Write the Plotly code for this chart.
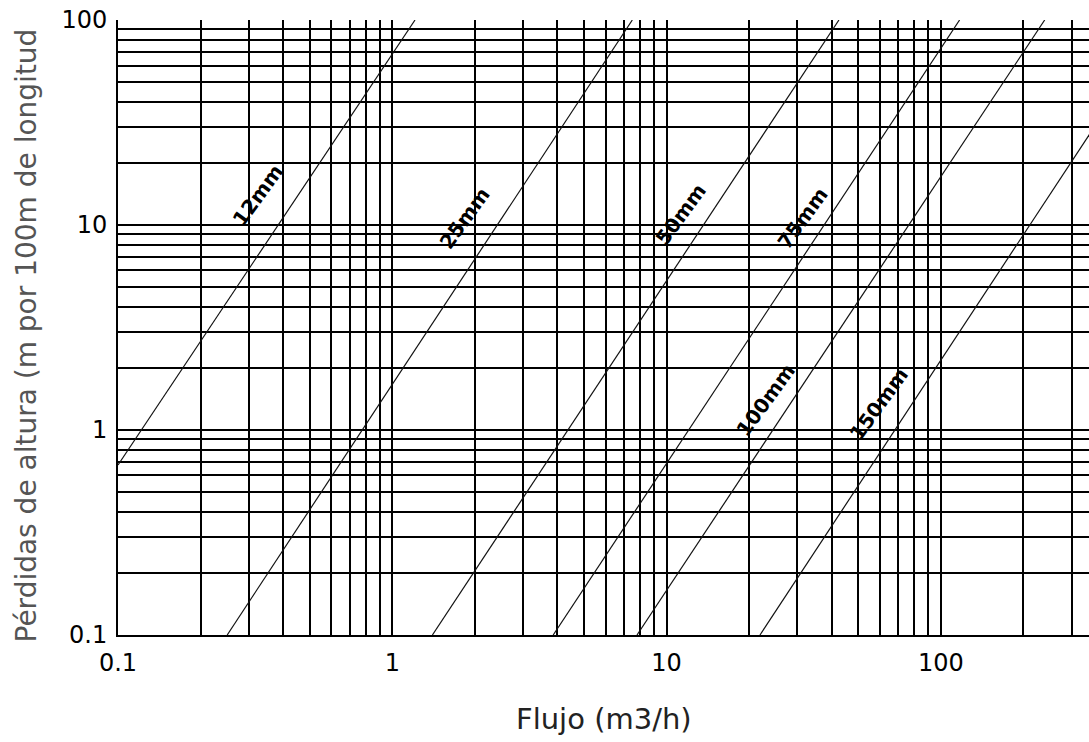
import numpy as np
import plotly.graph_objects as go

# ---- data ----
x_ticks = [0.1, 0.2, 0.3, 0.4, 0.5, 0.6, 0.7, 0.8, 0.9,
           1, 2, 3, 4, 5, 6, 7, 8, 9,
           10, 20, 30, 40, 50, 60, 70, 80, 90,
           100, 200, 300, 400, 500, 600, 700, 800, 900]
x_tick_labels = ["0.1", "", "", "", "", "", "", "", "",
                 "1", "", "", "", "", "", "", "", "",
                 "10", "", "", "", "", "", "", "", "",
                 "100", "", "", "", "", "", "", "", ""]
y_ticks = [0.1, 0.2, 0.3, 0.4, 0.5, 0.6, 0.7, 0.8, 0.9,
           1, 2, 3, 4, 5, 6, 7, 8, 9,
           10, 20, 30, 40, 50, 60, 70, 80, 90, 100]
y_tick_labels = ["0.1", "", "", "", "", "", "", "", "",
                 "1", "", "", "", "", "", "", "", "",
                 "10", "", "", "", "", "", "", "", "", "100"]

pipe_sizes = ["12mm", "25mm", "50mm", "75mm", "100mm", "150mm"]
flow_start = [0.1, 0.25, 1.40, 3.86, 7.8, 21.9]
loss_start = [0.675, 0.1, 0.1, 0.1, 0.1, 0.1]
flow_end = [1.21, 7.5, 42.5, 117, 239, 350]
loss_end = [100, 100, 100, 100, 100, 28]
label_flow = [0.324, 1.84, 11.3, 31.4, 23.0, 59.4]
label_loss = [14.0, 10.8, 11.3, 10.8, 1.40, 1.34]

x_title = "Flujo (m3/h)"
y_title = "Pérdidas de altura (m por 100m de longitud"

FONT = "DejaVu Sans"

fig = go.Figure()
for name, x0, y0, x1, y1 in zip(pipe_sizes, flow_start, loss_start, flow_end, loss_end):
    fig.add_trace(go.Scatter(x=[x0, x1], y=[y0, y1], mode="lines", name=name,
                             line=dict(color="#111111", width=1.2), showlegend=False,
                             hoverinfo="skip"))

for name, lx, ly in zip(pipe_sizes, label_flow, label_loss):
    fig.add_annotation(x=np.log10(lx), y=np.log10(ly), xref="x", yref="y",
                       text=name, showarrow=False, textangle=-54,
                       font=dict(family=FONT, size=20, color="#000000", weight="bold"))

fig.add_annotation(x=0.5, y=0, xref="paper", yref="paper", text=x_title,
                   showarrow=False, yanchor="middle", yshift=-84,
                   font=dict(family=FONT, size=29, color="#222222"))
fig.add_annotation(x=0, y=0.487, xref="paper", yref="paper", text=y_title,
                   showarrow=False, textangle=-90, xanchor="center", yanchor="middle",
                   xshift=-92,
                   font=dict(family=FONT, size=28, color="#555555"))

fig.update_xaxes(type="log", range=[-1.0001, 2.540],
                 tickvals=x_ticks, ticktext=x_tick_labels,
                 showgrid=True, gridcolor="#000000", gridwidth=2,
                 showline=True, linecolor="#000000", linewidth=2,
                 ticks="", ticklabelstandoff=5, zeroline=False,
                 tickfont=dict(family=FONT, size=24, color="#000000"))
fig.update_yaxes(type="log", range=[-1.0001, 2.0001],
                 tickvals=y_ticks, ticktext=y_tick_labels,
                 showgrid=True, gridcolor="#000000", gridwidth=2,
                 showline=True, linecolor="#000000", linewidth=2,
                 ticks="", ticklabelstandoff=4, zeroline=False,
                 tickfont=dict(family=FONT, size=24, color="#000000"))

fig.update_layout(width=1089, height=742, autosize=False,
                  margin=dict(l=118, r=0, t=20, b=107, pad=0),
                  paper_bgcolor="white", plot_bgcolor="white",
                  showlegend=False)

fig.write_html("out.html")
